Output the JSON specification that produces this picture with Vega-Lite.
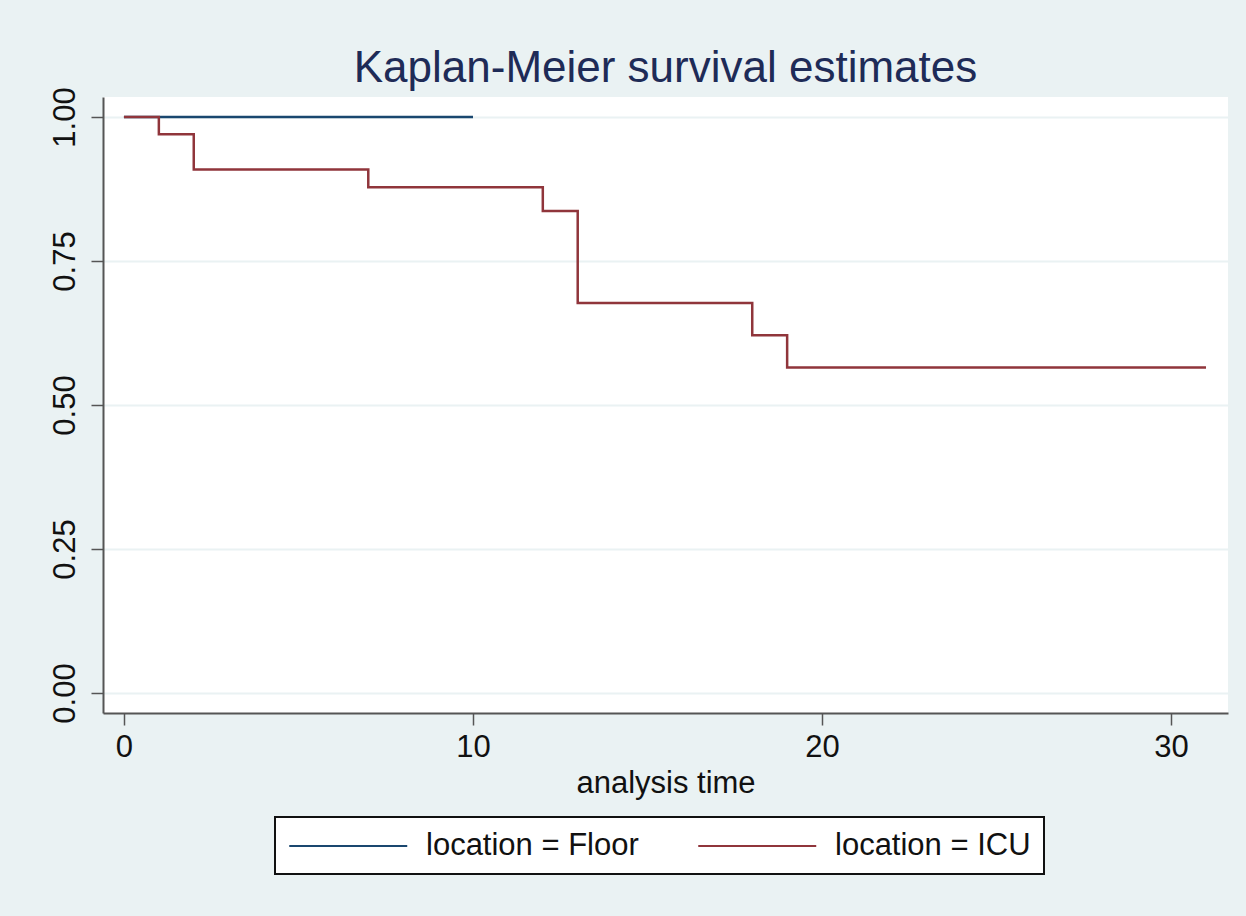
{
  "$schema": "https://vega.github.io/schema/vega-lite/v6.json",
  "width": 1125,
  "height": 616,
  "autosize": {"type": "none"},
  "padding": {"left": 103, "top": 97, "right": 18, "bottom": 203},
  "background": "#eaf2f3",
  "config": {
    "font": "Liberation Sans",
    "view": {"fill": "white", "stroke": null},
    "axis": {
      "labelFont": "Liberation Sans",
      "titleFont": "Liberation Sans",
      "labelFontSize": 31,
      "titleFontSize": 31,
      "labelColor": "#111111",
      "titleColor": "#111111",
      "labelFontWeight": "normal",
      "titleFontWeight": "normal",
      "domainColor": "#555555",
      "domainWidth": 2,
      "tickColor": "#555555",
      "tickWidth": 1.5,
      "tickSize": 12
    }
  },
  "title": {
    "text": "Kaplan-Meier survival estimates",
    "font": "Liberation Sans",
    "fontSize": 44,
    "fontWeight": "normal",
    "color": "#1e2b57",
    "anchor": "middle",
    "baseline": "alphabetic",
    "offset": -39
  },
  "data": {
    "values": [
      {"time": 0, "survival": 1.0, "group": "location = Floor", "order": 0},
      {"time": 10, "survival": 1.0, "group": "location = Floor", "order": 1},
      {"time": 0, "survival": 1.0, "group": "location = ICU", "order": 0},
      {"time": 1, "survival": 0.970, "group": "location = ICU", "order": 1},
      {"time": 2, "survival": 0.909, "group": "location = ICU", "order": 2},
      {"time": 7, "survival": 0.878, "group": "location = ICU", "order": 3},
      {"time": 12, "survival": 0.837, "group": "location = ICU", "order": 4},
      {"time": 13, "survival": 0.677, "group": "location = ICU", "order": 5},
      {"time": 18, "survival": 0.621, "group": "location = ICU", "order": 6},
      {"time": 19, "survival": 0.565, "group": "location = ICU", "order": 7},
      {"time": 31, "survival": 0.565, "group": "location = ICU", "order": 8}
    ]
  },
  "mark": {"type": "line", "interpolate": "step-after", "strokeWidth": 2.5, "clip": true},
  "encoding": {
    "x": {
      "field": "time",
      "type": "quantitative",
      "title": "analysis time",
      "scale": {"domain": [-0.6, 31.63], "nice": false, "zero": false},
      "axis": {
        "values": [0, 10, 20, 30],
        "grid": false,
        "labelPadding": 7,
        "titlePadding": 6
      }
    },
    "y": {
      "field": "survival",
      "type": "quantitative",
      "title": null,
      "scale": {"domain": [-0.0347, 1.0347], "nice": false, "zero": false},
      "axis": {
        "values": [0, 0.25, 0.5, 0.75, 1],
        "format": ".2f",
        "labelAngle": -90,
        "labelAlign": "center",
        "labelBaseline": "bottom",
        "labelPadding": 10,
        "grid": true,
        "gridColor": "#eaf2f3",
        "gridWidth": 2
      }
    },
    "order": {"field": "order"},
    "color": {
      "field": "group",
      "type": "nominal",
      "scale": {"domain": ["location = Floor", "location = ICU"], "range": ["#1a476f", "#90353b"]},
      "legend": {
        "title": null,
        "orient": "none",
        "legendX": 172,
        "legendY": 720,
        "direction": "horizontal",
        "padding": 13,
        "fillColor": "white",
        "strokeColor": "#111111",
        "symbolType": "M-1,0H7",
        "symbolSize": 870,
        "symbolStrokeWidth": 2,
        "labelFont": "Liberation Sans",
        "labelFontSize": 31,
        "labelColor": "#111111",
        "labelOffset": 106,
        "labelLimit": 400,
        "columnPadding": 55,
        "encode": {"legend": {"update": {"strokeWidth": {"value": 2}}}}
      }
    }
  }
}
